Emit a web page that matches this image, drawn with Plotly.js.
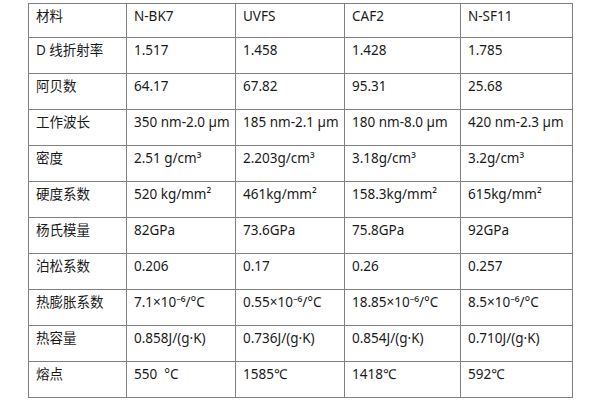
<!DOCTYPE html>
<html>
<head>
<meta charset="utf-8">
<script src="https://cdn.plot.ly/plotly-3.0.1.min.js"></script>
<style>
  html, body { margin: 0; padding: 0; background: #fff; }
  #chart { width: 600px; height: 400px; }
</style>
</head>
<body>
<div id="chart"></div>
<script>
// Optical material properties table
// (non-breaking spaces keep the wavelength ranges on one line,
//  unicode superscripts keep the baseline steady)
const headers    = ['材料', 'N-BK7', 'UVFS', 'CAF2', 'N-SF11'];
const properties = ['D 线折射率', '阿贝数', '工作波长', '密度', '硬度系数', '杨氏模量',
                    '泊松系数', '热膨胀系数', '热容量', '熔点'];
const nbk7  = ['1.517', '64.17', '350\u00a0nm-2.0\u00a0µm', '2.51\u00a0g/cm³', '520\u00a0kg/mm²',
               '82GPa', '0.206', '7.1×10⁻⁶/°C', '0.858J/(g·K)', '550\u00a0\u00a0°C'];
const uvfs  = ['1.458', '67.82', '185\u00a0nm-2.1\u00a0µm', '2.203g/cm³', '461kg/mm²',
               '73.6GPa', '0.17', '0.55×10⁻⁶/°C', '0.736J/(g·K)', '1585℃'];
const caf2  = ['1.428', '95.31', '180\u00a0nm-8.0\u00a0µm', '3.18g/cm³', '158.3kg/mm²',
               '75.8GPa', '0.26', '18.85×10⁻⁶/°C', '0.854J/(g·K)', '1418℃'];
const nsf11 = ['1.785', '25.68', '420\u00a0nm-2.3\u00a0µm', '3.2g/cm³', '615kg/mm²',
               '92GPa', '0.257', '8.5×10⁻⁶/°C', '0.710J/(g·K)', '592℃'];

const FONT = '"Noto Sans", "Noto Sans CJK SC", sans-serif';
const LINE = '#808080';

const trace = {
  type: 'table',
  columnwidth: [98, 109, 109, 116, 112],
  header: {
    values: headers,
    align: 'left',
    height: 34,
    fill: { color: '#ffffff' },
    line: { color: LINE, width: 1 },
    font: { family: FONT, size: 13.5, color: '#1a1a1a' },
  },
  cells: {
    values: [properties, nbk7, uvfs, caf2, nsf11],
    align: 'left',
    height: 36,
    fill: { color: '#ffffff' },
    line: { color: LINE, width: 1 },
    font: { family: FONT, size: 13.5, color: '#1a1a1a' },
  },
};

const layout = {
  width: 600,
  height: 400,
  margin: { t: 3, r: 28, b: 0, l: 28 },
  paper_bgcolor: '#ffffff',
};

Plotly.newPlot('chart', [trace], layout, { displayModeBar: false, staticPlot: true });
</script>
</body>
</html>
